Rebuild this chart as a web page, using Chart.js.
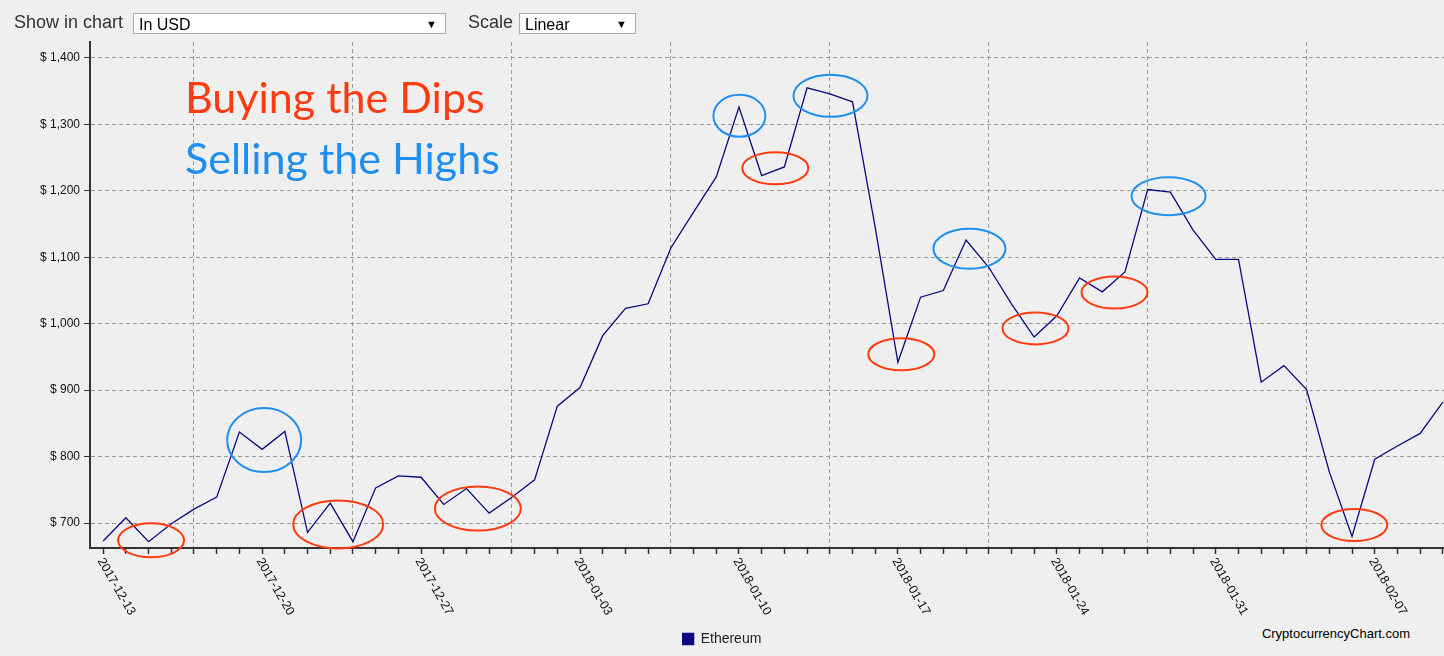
<!DOCTYPE html>
<html><head><meta charset="utf-8">
<script src="https://cdn.jsdelivr.net/npm/chart.js@4/dist/chart.umd.min.js"></script>
<style>
html,body{margin:0;padding:0;background:#efefef;width:1444px;height:656px;overflow:hidden;font-family:"Liberation Sans",Arial,sans-serif}
#wrap{position:absolute;left:0;top:0;width:1444px;height:656px}
.hdr{position:absolute;top:12px;font-size:18px;color:#333;z-index:2}
.sel{position:absolute;top:13px;height:21px;background:#fff;border:1px solid #aaa;font-size:16px;line-height:21px;padding-left:5px;box-sizing:border-box;z-index:2;color:#000}
.sel span{position:absolute;right:8px;top:0;font-size:11px}
#brand{position:absolute;right:34px;top:626px;font-size:13px;color:#000}
</style></head><body>
<div class="hdr" style="left:14px">Show in chart</div>
<div class="sel" style="left:133px;width:313px">In USD<span>▼</span></div>
<div class="hdr" style="left:468px">Scale</div>
<div class="sel" style="left:519px;width:117px">Linear<span>▼</span></div>
<div id="brand">CryptocurrencyChart.com</div>
<div id="wrap"><canvas id="c" width="1444" height="656"></canvas></div>
<script>
const startDate = "2017-12-13";
const seriesName = "Ethereum";
const prices = [673,708,672,699,721,739,837,811,838,686,730,672,753,771,769,728,752,715,739,765,
876,904,982,1023,1030,1114,1168,1221,1326,1223,1236,1355,1346,1334,1145,942,1040,1050,1126,1085,
1030,980,1012,1069,1048,1078,1202,1198,1141,1097,1097,912,937,901,777,680,796,816,835,882];
const yTicks = [700,800,900,1000,1100,1200,1300,1400];
const dipMarks = [[2.11,674,33,17],[10.35,698,45,24],[16.5,722,43,22],[29.6,1234,33,16],[35.15,954,33,16],[41.06,993,33,16],[44.54,1047,33,16],[55.1,697,33,16]];
const highMarks = [[7.09,825,37,32],[28.02,1313,26,21],[32.03,1343,37,21],[38.15,1113,36,20],[46.92,1192,37,19]];
const titles = ["Buying the Dips","Selling the Highs"];

function dateLabel(i){const d=new Date(startDate+"T00:00:00Z");d.setUTCDate(d.getUTCDate()+i);return d.toISOString().slice(0,10);}
const pts = prices.map((v,i)=>({x:i,y:v}));

const overlay = {
  id:'overlay',
  afterDatasetsDraw(chart){
    const ctx=chart.ctx, xs=chart.scales.x, ys=chart.scales.y;
    ctx.save();
    ctx.lineWidth=2;
    ctx.strokeStyle='#ff3b0f';
    dipMarks.forEach(m=>{ctx.beginPath();ctx.ellipse(xs.getPixelForValue(m[0]),ys.getPixelForValue(m[1]),m[2],m[3],0,0,Math.PI*2);ctx.stroke();});
    ctx.strokeStyle='#1e8ff0';
    highMarks.forEach(m=>{ctx.beginPath();ctx.ellipse(xs.getPixelForValue(m[0]),ys.getPixelForValue(m[1]),m[2],m[3],0,0,Math.PI*2);ctx.stroke();});
    ctx.font='43px Lato, "Open Sans", sans-serif';
    ctx.textBaseline='alphabetic';
    ctx.fillStyle='#ff3b0f'; ctx.fillText(titles[0],185,113);
    ctx.fillStyle='#1e8ff0'; ctx.fillText(titles[1],185,174);
    ctx.fillStyle='#111'; ctx.font='12.5px "Liberation Sans", Arial, sans-serif';
    ctx.textAlign='left'; ctx.textBaseline='middle';
    for(let i=0;i<prices.length;i+=7){
      const x=xs.getPixelForValue(i), y=xs.top+11;
      ctx.save(); ctx.translate(x-3,y); ctx.rotate(Math.PI/3); ctx.fillText(dateLabel(i),0,0); ctx.restore();
    }
    ctx.restore();
  }
};

new Chart(document.getElementById('c'),{
  type:'line',
  data:{datasets:[{label:seriesName,data:pts,borderColor:'#0a0a80',backgroundColor:'#0a0a80',borderWidth:1.3,pointRadius:0,tension:0}]},
  options:{
    responsive:false,animation:false,
    layout:{padding:{top:42,right:0,left:0,bottom:0}},
    plugins:{
      legend:{position:'bottom',labels:{boxWidth:11,boxHeight:11,color:'#222',font:{size:14,family:'"Liberation Sans", Arial'},padding:5}},
      tooltip:{enabled:false}
    },
    scales:{
      x:{type:'linear',min:-0.58,max:59.05,
        afterBuildTicks(s){s.ticks=prices.map((_,i)=>({value:i}));},
        afterFit(s){s.height=79;},
        ticks:{display:false},
        grid:{drawOnChartArea:true,tickLength:6,
          color:c=>(c.tick&&c.tick.value%7===4)?'#999':'rgba(0,0,0,0)',
          tickColor:'#333',tickWidth:1.5,lineWidth:1},
        border:{color:'#333',width:2,dash:[4,3]}
      },
      y:{min:662.5,max:1424,
        afterBuildTicks(s){s.ticks=yTicks.map(v=>({value:v}));},
        afterFit(s){s.width=90;},
        ticks:{color:'#111',font:{size:12,family:'"Liberation Sans", Arial'},padding:4,
          callback:v=>'$ '+v.toLocaleString('en-US')},
        grid:{color:'#999',tickColor:'#333',tickLength:6,lineWidth:1},
        border:{color:'#333',width:2,dash:[4,3]}
      }
    }
  },
  plugins:[overlay]
});
</script></body></html>
